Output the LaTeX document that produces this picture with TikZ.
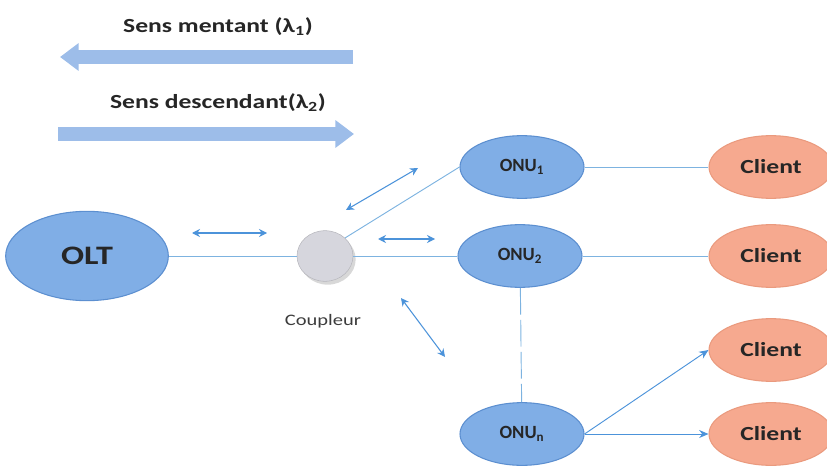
\documentclass[tikz,border=0pt]{standalone}
\usepackage{fontspec}
\setmainfont{Carlito}
\newfontfamily\widefont{Carlito}[FakeStretch=1.28]
\usetikzlibrary{arrows.meta, shapes.geometric, shadows, positioning}
\definecolor{ponBlue}{HTML}{80AEE6}
\definecolor{ponBlueDark}{HTML}{5C8FD0}
\definecolor{ponClient}{HTML}{F6A98F}
\definecolor{ponClientDark}{HTML}{EA9A7E}
\definecolor{ponLine}{HTML}{7DB3E0}
\definecolor{ponArrow}{HTML}{4C93DA}
\definecolor{ponBand}{HTML}{9DBDE9}
\definecolor{ponText}{HTML}{262626}
\definecolor{ponGrey}{HTML}{D6D6DD}
\tikzset{
  ponnode/.style={ellipse, draw, thick, inner sep=0pt, font=\bfseries, text=ponText},
  olt/.style={ponnode, fill=ponBlue, draw=ponBlueDark, minimum width=122pt, minimum height=67pt, font=\widefont\fontsize{20}{24}\selectfont\bfseries},
  onu/.style={ponnode, fill=ponBlue, draw=ponBlueDark, minimum width=93pt, minimum height=47pt, font=\fontsize{14}{17}\selectfont\bfseries},
  client/.style={ponnode, fill=ponClient, draw=ponClientDark, minimum width=93pt, minimum height=47pt, font=\widefont\fontsize{15}{18}\selectfont\bfseries},
  coupler/.style={ellipse, fill=ponGrey, draw=ponGrey!85!black, thin, minimum width=42pt, minimum height=38pt,
    drop shadow={shadow xshift=2pt, shadow yshift=-2.5pt, fill=black!30}},
  legend/.style={font=\widefont\fontsize{15}{18}\selectfont\bfseries, text=ponText},
  tag/.style={font=\widefont\fontsize{12}{14}\selectfont, text=ponText!90},
  band/.style={line width=10.5pt, ponBand, -{Triangle[length=14pt, width=20pt]}},
  fibre/.style={line width=0.7pt, ponLine},
  flux/.style={line width=0.8pt, ponArrow, {Stealth[length=6pt, width=6pt]}-{Stealth[length=6pt, width=6pt]}}
}
\begin{document}
\begin{tikzpicture}[x=0.75pt, y=-0.75pt]
  \useasboundingbox (0,0) rectangle (827,470);
  % sens de transmission
  \node[legend] (up) at (218,27) {Sens mentant (λ\textsubscript{1})};
  \coordinate (upS) at (353,57);
  \coordinate (upE) at (60,57);
  \draw[band] (upS) -- (upE);
  \node[legend] (down) at (218,103) {Sens descendant(λ\textsubscript{2})};
  \coordinate (downS) at (58,134);
  \coordinate (downE) at (354,134);
  \draw[band] (downS) -- (downE);

  % reseau
  \node[olt] (olt) at (87,256) {OLT};
  \node[coupler] (coup) at (325,256) {};
  \node[tag] (couptag) at (323,321) {Coupleur};
  \node[onu] (onu1) at (522,167) {ONU\textsubscript{1}};
  \node[onu] (onu2) at (520,256) {ONU\textsubscript{2}};
  \node[onu] (onun) at (522,434) {ONU\textsubscript{n}};
  \node[client] (c1) at (771,167) {Client};
  \node[client] (c2) at (771,256) {Client};
  \node[client] (c3) at (771,350) {Client};
  \node[client] (c4) at (771,434) {Client};

  \draw[fibre] (olt) -- (coup);
  \draw[fibre] (coup) -- (onu2);
  \draw[fibre] (coup.42) -- (onu1.west);
  \foreach \o/\c in {onu1/c1, onu2/c2}{\draw[fibre] (\o) -- (\c);}
  \draw[fibre, dash pattern=on 20pt off 4pt] (onu2) -- (onun);
  \foreach \c in {c3, c4}{\draw[fibre, -{Stealth[length=7pt, width=6pt]}, ponArrow] (onun.east) -- (\c.west);}

  % flux bidirectionnels
  \foreach \n/\xa/\ya/\xb/\yb in {fa/192/233/267/233, fb/346/210/418/168, fc/378/239/435/239, fd/401/298/445/357}{
    \coordinate (\n1) at (\xa,\ya);
    \coordinate (\n2) at (\xb,\yb);
    \draw[flux] (\n1) -- (\n2);
  }
\end{tikzpicture}
\end{document}
